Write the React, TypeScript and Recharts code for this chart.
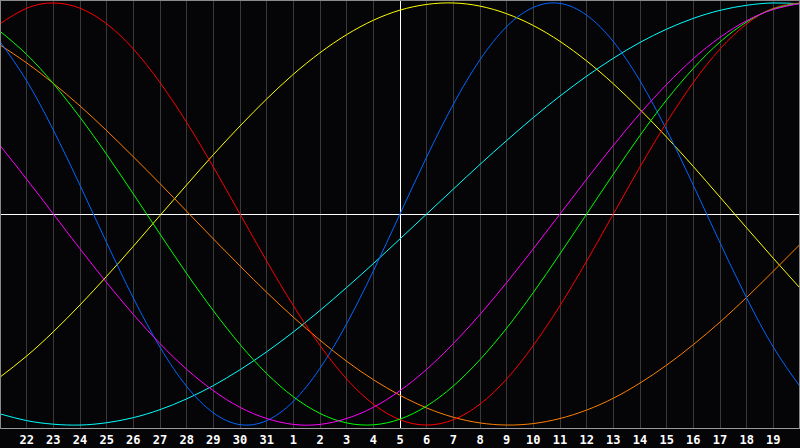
import React from "react";
import { LineChart, Line, XAxis, YAxis, CartesianGrid, ReferenceLine } from "recharts";

// x positions (day index across the 30-day window)
const positions = [0,1,2,3,4,5,6,7,8,9,10,11,12,13,14,15,16,17,18,19,20,21,22,23,24,25,26,27,28,29,30];
// tick labels shown at positions 1..29
const tickPositions = [1,2,3,4,5,6,7,8,9,10,11,12,13,14,15,16,17,18,19,20,21,22,23,24,25,26,27,28,29];
const dayLabels = ["22","23","24","25","26","27","28","29","30","31","1","2","3","4","5","6","7","8","9","10","11","12","13","14","15","16","17","18","19"];

// series values (percent)
const blueValues = [81.7,63.1,39.8,13.6,-13.6,-39.8,-63.1,-81.7,-94.2,-99.8,-97.9,-88.8,-73.1,-52.0,-27.0,0,27.0,52.0,73.1,88.8,97.9,99.8,94.2,81.7,63.1,39.8,13.6,-13.6,-39.8,-63.1,-81.7];
const redValues = [90.1,97.5,100,97.5,90.1,78.2,62.3,43.4,22.3,0,-22.3,-43.4,-62.3,-78.2,-90.1,-97.5,-100,-97.5,-90.1,-78.2,-62.3,-43.4,-22.3,0,22.3,43.4,62.3,78.2,90.1,97.5,100];
const greenValues = [86.6,75.6,61.8,45.8,28.2,9.5,-9.5,-28.2,-45.8,-61.8,-75.6,-86.6,-94.5,-99.0,-99.9,-97.2,-91.0,-81.5,-69.0,-54.1,-37.2,-18.9,0,18.9,37.2,54.1,69.0,81.5,91.0,97.2,99.9];
const magentaValues = [32.5,16.5,0,-16.5,-32.5,-47.6,-61.4,-73.6,-83.7,-91.6,-96.9,-99.7,-99.7,-96.9,-91.6,-83.7,-73.6,-61.4,-47.6,-32.5,-16.5,0,16.5,32.5,47.6,61.4,73.6,83.7,91.6,96.9,99.7];
const yellowValues = [-77.3,-67.3,-55.8,-43.1,-29.5,-15.3,-0.7,13.8,28.1,41.7,54.5,66.2,76.4,85.0,91.8,96.6,99.3,100.0,98.5,94.9,89.3,81.8,72.5,61.7,49.5,36.4,22.5,8.0,-6.6,-21.0,-35.1];
const cyanValues = [-94.7,-97.9,-99.6,-100.0,-98.9,-96.5,-92.7,-87.6,-81.3,-73.8,-65.3,-55.9,-45.7,-34.8,-23.5,-11.8,0,11.8,23.5,34.8,45.7,55.9,65.3,73.8,81.3,87.6,92.7,96.5,98.9,100.0,99.6];
const orangeValues = [80.1,71.6,61.9,51.2,39.5,27.1,14.4,1.3,-11.8,-24.6,-37.1,-48.9,-59.8,-69.8,-78.5,-85.9,-91.9,-96.3,-99.0,-100.0,-99.3,-96.9,-92.9,-87.3,-80.1,-71.6,-61.9,-51.2,-39.5,-27.1,-14.4];

const data = positions.map((k, i) => ({
  k,
  blue: blueValues[i],
  red: redValues[i],
  green: greenValues[i],
  magenta: magentaValues[i],
  yellow: yellowValues[i],
  cyan: cyanValues[i],
  orange: orangeValues[i],
}));

const series = [
  { key: "yellow", color: "#ffff00" },
  { key: "cyan", color: "#00ffff" },
  { key: "orange", color: "#ff8000" },
  { key: "blue", color: "#0066ff" },
  { key: "red", color: "#ff0000" },
  { key: "green", color: "#00ff00" },
  { key: "magenta", color: "#ff00ff" },
];

const labelFor = (v: number) => {
  const idx = tickPositions.indexOf(v);
  return idx >= 0 ? dayLabels[idx] : "";
};

export default function App() {
  return (
    <div style={{ position: "absolute", left: 0, top: 0, width: 800, height: 448, background: "#050508" }}>
      <style>{`
        .recharts-cartesian-grid line, .recharts-reference-line line, .recharts-cartesian-axis-line { shape-rendering: crispEdges; }
      `}</style>
      <LineChart width={800} height={448} data={data} margin={{ top: 0, right: 0, bottom: 0, left: 0 }}>
        <CartesianGrid horizontal={false} vertical={true} stroke="#3a3a3a" />
        <XAxis
          type="number"
          dataKey="k"
          domain={[0, 30]}
          ticks={tickPositions}
          tickFormatter={labelFor}
          height={20}
          tickLine={false}
          tickSize={6}
          tickMargin={1}
          axisLine={{ stroke: "#9a9a9a" }}
          tick={{ fill: "#ffffff", fontFamily: "DejaVu Sans Mono", fontWeight: "bold", fontSize: 12 }}
          interval={0}
          allowDataOverflow
        />
        <YAxis hide domain={[-101.4, 101.4]} type="number" allowDataOverflow />
        <ReferenceLine y={0} stroke="#ffffff" strokeWidth={1} />
        <ReferenceLine x={15} stroke="#ffffff" strokeWidth={1} />
        {series.map((s) => (
          <Line
            key={s.key}
            type="natural"
            dataKey={s.key}
            stroke={s.color}
            strokeWidth={1}
            dot={false}
            activeDot={false}
            isAnimationActive={false}
          />
        ))}
      </LineChart>
      <div
        style={{
          position: "absolute",
          left: 0,
          top: 0,
          width: 800,
          height: 429,
          boxSizing: "border-box",
          borderTop: "1px solid #8a8a8a",
          borderLeft: "1px solid #8a8a8a",
          borderRight: "1px solid #8a8a8a",
          pointerEvents: "none",
        }}
      />
    </div>
  );
}
